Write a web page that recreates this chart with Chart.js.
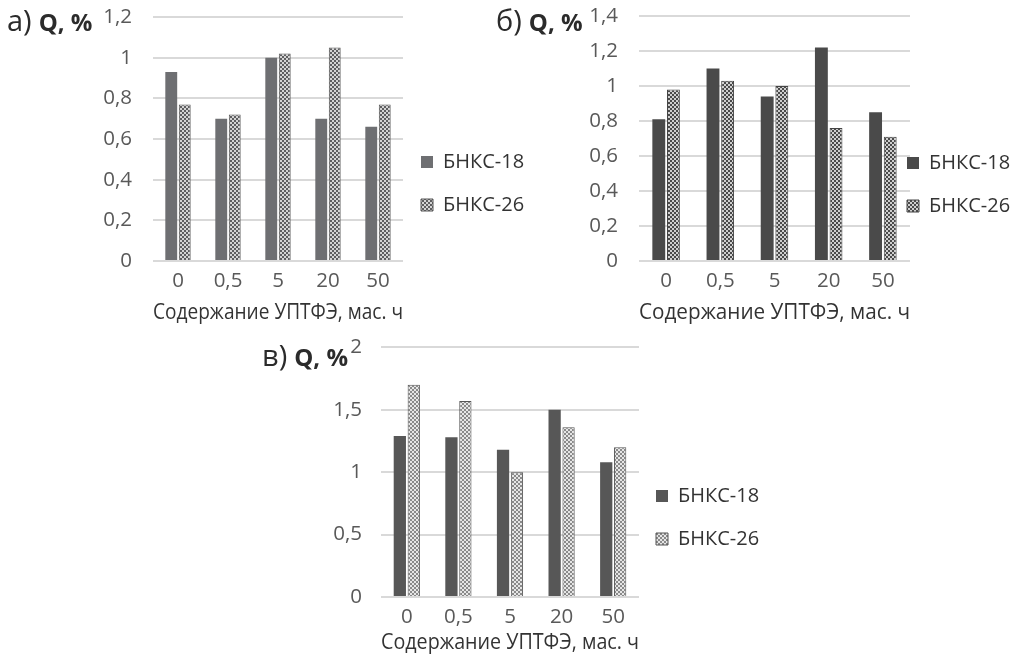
<!DOCTYPE html>
<html lang="ru">
<head>
<meta charset="utf-8">
<script src="https://cdn.jsdelivr.net/npm/chart.js@4.4.0/dist/chart.umd.min.js"></script>
<style>
  html, body { margin: 0; padding: 0; background: #fff; }
  body { width: 1020px; height: 656px; position: relative; overflow: hidden; font-family: "Open Sans", sans-serif; }
  .box { position: absolute; }
  .lbl { position: absolute; color: #2b2b2b; white-space: nowrap; line-height: 1; display: flex; align-items: baseline; }
  .lbl span { font-size: 29px; }
  .lbl b { font-size: 24px; font-weight: 700; margin-left: 7px; }
</style>
</head>
<body>
<div class="box" style="left:0;top:0;width:530px;height:331px"><canvas id="chartA"></canvas></div>
<div class="box" style="left:520px;top:0;width:500px;height:331px"><canvas id="chartB"></canvas></div>
<div class="box" style="left:250px;top:333px;width:520px;height:323px"><canvas id="chartC"></canvas></div>
<div class="lbl" style="left:7px;top:5px"><span>а)</span><b>Q, %</b></div>
<div class="lbl" style="left:496px;top:5px"><span>б)</span><b>Q, %</b></div>
<div class="lbl" style="left:262px;top:340px"><span>в)</span><b>Q, %</b></div>
<script>
// --- Datos ---
const categories = ['0', '0,5', '5', '20', '50'];
const seriesNames = ['БНКС-18', 'БНКС-26'];
const xTitle = 'Содержание УПТФЭ, мас. ч';

// а)
const a18 = [0.93, 0.70, 1.00, 0.70, 0.66];
const a26 = [0.77, 0.72, 1.02, 1.05, 0.77];
// б)
const b18 = [0.81, 1.10, 0.94, 1.22, 0.85];
const b26 = [0.98, 1.03, 1.00, 0.76, 0.71];
// в)
const c18 = [1.29, 1.28, 1.18, 1.50, 1.08];
const c26 = [1.70, 1.57, 1.00, 1.36, 1.20];

const FONT = '"Open Sans", sans-serif';

// patrón tipo "cuadriculado" para la segunda serie
const makeChecker = (dark, light) => {
    const c = document.createElement('canvas');
    c.width = 4; c.height = 4;
    const g = c.getContext('2d');
    g.fillStyle = dark; g.fillRect(0, 0, 4, 4);
    g.fillStyle = light;
    g.fillRect(0, 0, 2, 2);
    g.fillRect(2, 2, 2, 2);
    return g.createPattern(c, 'repeat');
};

// mueve la leyenda a una posición fija dentro del canvas
const legendAt = {
    id: 'legendAt',
    afterLayout(chart, args, opts) {
        const lg = chart.legend;
        if (!lg || opts.x == null) return;
        const dx = opts.x - lg.left, dy = opts.y - lg.top;
        lg.left += dx; lg.right += dx;
        lg.top += dy; lg.bottom += dy;
    }
};

const commaTick = (v) => String(Math.round(v * 10) / 10).replace('.', ',');

const buildChart = (id, s18, s26, cfg) => {
    return new Chart(document.getElementById(id), {
        type: 'bar',
        data: {
            labels: categories,
            datasets: [
                {
                    label: seriesNames[0],
                    data: s18,
                    backgroundColor: cfg.solid,
                    borderWidth: 0,
                    categoryPercentage: 0.54,
                    barPercentage: 0.88
                },
                {
                    label: seriesNames[1],
                    data: s26,
                    backgroundColor: makeChecker(cfg.dark, cfg.light),
                    borderColor: cfg.edge,
                    borderWidth: 1,
                    categoryPercentage: 0.54,
                    barPercentage: 0.88
                }
            ]
        },
        options: {
            responsive: true,
            maintainAspectRatio: false,
            animation: false,
            layout: { padding: { top: cfg.top, right: cfg.right, left: 0, bottom: 0 } },
            plugins: {
                tooltip: { enabled: false },
                title: { display: false },
                legend: {
                    position: 'chartArea',
                    align: 'start',
                    labels: {
                        font: { family: FONT, size: 20 },
                        color: '#333',
                        boxWidth: 12,
                        boxHeight: 12,
                        padding: 23
                    }
                },
                legendAt: { x: cfg.legX, y: cfg.legY }
            },
            scales: {
                x: {
                    grid: { display: false, drawTicks: false },
                    border: { display: false },
                    ticks: { font: { family: FONT, size: 20.5 }, color: '#595959', padding: 8 },
                    title: {
                        display: true,
                        text: xTitle,
                        font: { family: FONT, size: 21 },
                        color: '#333',
                        padding: { top: 0, bottom: cfg.titleBottom }
                    },
                    afterFit: (s) => { s.height = cfg.xh; }
                },
                y: {
                    min: 0,
                    max: cfg.max,
                    // marcas invisibles: separan las etiquetas sin agrandar el margen superior
                    grid: { color: '#d9d9d9', lineWidth: 2, drawTicks: true, tickLength: cfg.ygap, tickColor: 'rgba(0,0,0,0)' },
                    border: { display: false },
                    ticks: {
                        stepSize: cfg.step,
                        font: { family: FONT, size: 20.5 },
                        color: '#595959',
                        padding: 2,
                        callback: commaTick
                    },
                    afterFit: (s) => { s.width = cfg.yw; }
                }
            }
        },
        plugins: [legendAt]
    });
};

buildChart('chartA', a18, a26, {
    solid: '#6e6f72', dark: '#5e5e60', light: '#d4d4d4', edge: '#555',
    max: 1.2, step: 0.2, top: 17, right: 127, yw: 153, ygap: 19, xh: 70, titleBottom: 5,
    legX: 398, legY: 129
});

buildChart('chartB', b18, b26, {
    solid: '#4a4a4a', dark: '#4a4a4a', light: '#cfcfcf', edge: '#444',
    max: 1.4, step: 0.2, top: 16, right: 110, yw: 119, ygap: 19, xh: 70, titleBottom: 5,
    legX: 364, legY: 130
});

buildChart('chartC', c18, c26, {
    solid: '#575757', dark: '#8a8a8a', light: '#e6e6e6', edge: '#555',
    max: 2, step: 0.5, top: 14, right: 131, yw: 131, ygap: 17, xh: 59, titleBottom: 0,
    legX: 383, legY: 130
});
</script>
</body>
</html>
